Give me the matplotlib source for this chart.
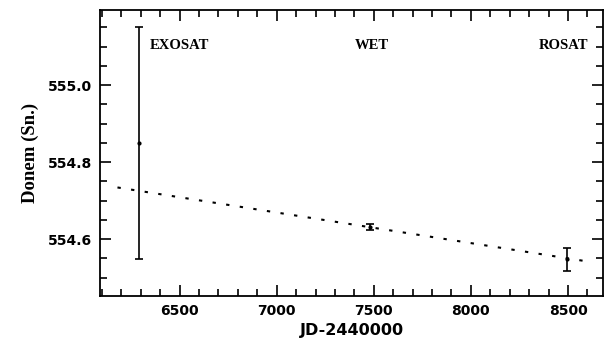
import matplotlib
matplotlib.use("Agg")
import matplotlib.pyplot as plt
from matplotlib.ticker import MultipleLocator

# Data
names = ["EXOSAT", "WET", "ROSAT"]
jd = [6290, 7480, 8495]
period = [554.85, 554.631, 554.548]
period_err = [0.302, 0.007, 0.03]
fit_x = [6180, 8610]
fit_y = [554.734, 554.541]

fig = plt.figure(figsize=(6.06, 3.45), dpi=100)
ax = fig.add_axes([0.165, 0.142, 0.83, 0.829])

ax.plot(fit_x, fit_y, linestyle=(0, (1.6, 5.0)), color="black", linewidth=1.5)
ax.errorbar(jd, period, yerr=period_err, fmt="o", color="black", markersize=2,
            capsize=3.2, elinewidth=1.2, capthick=1.2)

ax.set_xlim(6090, 8680)
ax.set_ylim(554.452, 555.195)

ax.xaxis.set_major_locator(MultipleLocator(500))
ax.xaxis.set_minor_locator(MultipleLocator(100))
ax.yaxis.set_major_locator(MultipleLocator(0.2))
ax.yaxis.set_minor_locator(MultipleLocator(0.05))
ax.yaxis.set_major_formatter(matplotlib.ticker.FormatStrFormatter("%.1f"))

ax.tick_params(which="both", direction="in", top=True, right=True, width=1.2)
ax.tick_params(which="major", length=8, pad=6)
ax.tick_params(which="minor", length=5)
for lab in ax.get_xticklabels() + ax.get_yticklabels():
    lab.set_fontweight("bold")
    lab.set_fontfamily("DejaVu Sans")
    lab.set_fontsize(10)
for s in ax.spines.values():
    s.set_linewidth(1.3)

ax.set_xlabel("JD-2440000", fontsize=11.5, fontweight="bold", fontfamily="DejaVu Sans", labelpad=3)
ax.set_ylabel("Donem (Sn.)", fontsize=13.5, fontweight="bold", fontfamily="Liberation Serif", labelpad=6)

for name, x, ha in zip(names, [6345, 7490, 8604], ["left", "center", "right"]):
    ax.text(x, 555.104, name, fontsize=10.5, fontweight="bold", fontfamily="Liberation Serif",
            ha=ha, va="center")

fig.savefig("out.png", dpi=100)
